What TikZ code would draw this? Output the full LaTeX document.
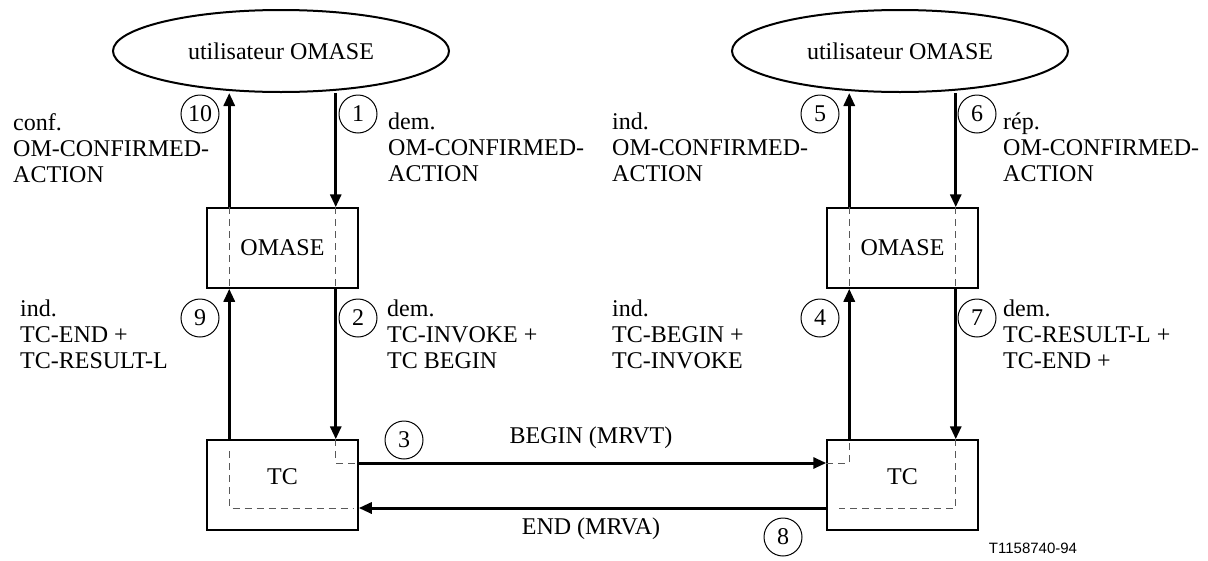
\documentclass[tikz,border=0pt]{standalone}
\usepackage{fontspec}
\setmainfont{Liberation Serif}
\newfontfamily\figsans{Liberation Sans}
\usetikzlibrary{arrows.meta, positioning, shapes.geometric}
\tikzstyle{user}=[ellipse, draw, line width=2pt, minimum width=336pt, minimum height=82pt, inner sep=0pt]
\tikzstyle{entity}=[rectangle, draw, line width=1.5pt, minimum width=151pt, inner sep=0pt]
\tikzstyle{prim}=[circle, draw, line width=1pt, minimum size=38pt, inner sep=0pt]
\tikzstyle{flow}=[->, line width=3pt]
\tikzstyle{trace}=[line width=1pt, black!65, dash pattern=on 7pt off 5pt]
\tikzstyle{note}=[anchor=north west, align=left, inner sep=0pt]

\begin{document}
\begin{tikzpicture}[x=1pt, y=-1pt, >={Triangle[length=13pt, width=11pt]}, font=\fontsize{24}{26}\selectfont]
  \useasboundingbox (0,0) rectangle (1208,560);

  % left side
  \node[user]   (uL)  at (281,51)    {utilisateur OMASE};
  \node[entity, minimum height=80pt] (omL) at (282.5,248) {OMASE};
  \node[entity, minimum height=90pt, text depth=16pt] (tcL) at (282.5,485) {TC};

  % right side
  \node[user]   (uR)  at (900,51)    {utilisateur OMASE};
  \node[entity, minimum height=80pt] (omR) at (902.5,248) {OMASE};
  \node[entity, minimum height=90pt, text depth=16pt] (tcR) at (902.5,485) {TC};

  % dashed traces through the entities
  \draw[trace] ([xshift=23pt]omL.north west) -- ([xshift=23pt]omL.south west);
  \draw[trace] ([xshift=-23pt]omL.north east) -- ([xshift=-23pt]omL.south east);
  \draw[trace] ([xshift=23pt]omR.north west) -- ([xshift=23pt]omR.south west);
  \draw[trace] ([xshift=-23pt]omR.north east) -- ([xshift=-23pt]omR.south east);
  \draw[trace] ([xshift=-23pt]tcL.north east) -- ([xshift=-23pt,yshift=22pt]tcL.east) -- ([yshift=22pt]tcL.east);
  \draw[trace] ([xshift=23pt,yshift=-12pt]tcL.north west) -- ([xshift=23pt,yshift=-23pt]tcL.west) -- ([xshift=-5pt,yshift=-23pt]tcL.east);
  \draw[trace] ([yshift=22pt]tcR.west) -- ([xshift=23pt,yshift=22pt]tcR.west) -- ([xshift=23pt]tcR.north west);
  \draw[trace] ([xshift=-23pt]tcR.north east) -- ([xshift=-23pt,yshift=-23pt]tcR.east) -- ([xshift=13pt,yshift=-23pt]tcR.west);

  % primitives
  \draw[flow] ([xshift=23pt]omL.north west) -- ([xshift=23pt]omL.north west |- uL.south);
  \draw[flow] ([xshift=-23pt]omL.north east |- uL.south) -- ([xshift=-23pt]omL.north east);
  \draw[flow] ([xshift=23pt]tcL.north west) -- ([xshift=23pt]omL.south west);
  \draw[flow] ([xshift=-23pt]omL.south east) -- ([xshift=-23pt]tcL.north east);
  \draw[flow] ([xshift=23pt]omR.north west) -- ([xshift=23pt]omR.north west |- uR.south);
  \draw[flow] ([xshift=-23pt]omR.north east |- uR.south) -- ([xshift=-23pt]omR.north east);
  \draw[flow] ([xshift=23pt]tcR.north west) -- ([xshift=23pt]omR.south west);
  \draw[flow] ([xshift=-23pt]omR.south east) -- ([xshift=-23pt]tcR.north east);
  \draw[flow] ([yshift=22pt]tcL.east) -- ([yshift=22pt]tcR.west);
  \draw[flow] ([yshift=-23pt]tcR.west) -- ([yshift=-23pt]tcL.east);

  % step numbers
  \node[prim] (n10) at (200,114) {10};
  \node[prim] (n1)  at (358,114) {1};
  \node[prim] (n9)  at (200,318) {9};
  \node[prim] (n2)  at (358,318) {2};
  \node[prim] (n3)  at (404,440) {3};
  \node[prim] (n5)  at (820,114) {5};
  \node[prim] (n6)  at (977,114) {6};
  \node[prim] (n4)  at (820,318) {4};
  \node[prim] (n7)  at (977,318) {7};
  \node[prim] (n8)  at (783,537) {8};

  % primitive names
  \node[note] (t10) at (13,113)   {conf.\\OM-CONFIRMED-\\ACTION};
  \node[note] (t1)  at (388,113)  {dem.\\OM-CONFIRMED-\\ACTION};
  \node[note] (t5)  at (612,113)  {ind.\\OM-CONFIRMED-\\ACTION};
  \node[note] (t6)  at (1003,113) {rép.\\OM-CONFIRMED-\\ACTION};
  \node[note] (t9)  at (20,300)   {ind.\\TC-END +\\TC-RESULT-L};
  \node[note] (t2)  at (387,300)  {dem.\\TC-INVOKE +\\TC BEGIN};
  \node[note] (t4)  at (612,300)  {ind.\\TC-BEGIN +\\TC-INVOKE};
  \node[note] (t7)  at (1003,300) {dem.\\TC-RESULT-L +\\TC-END +};

  \node (mrvt) at (591,438) {BEGIN (MRVT)};
  \node (mrva) at (591,529) {END (MRVA)};
  \node[font=\figsans\fontsize{15}{17}\selectfont] (ref) at (1033,548) {T1158740-94};
\end{tikzpicture}
\end{document}
